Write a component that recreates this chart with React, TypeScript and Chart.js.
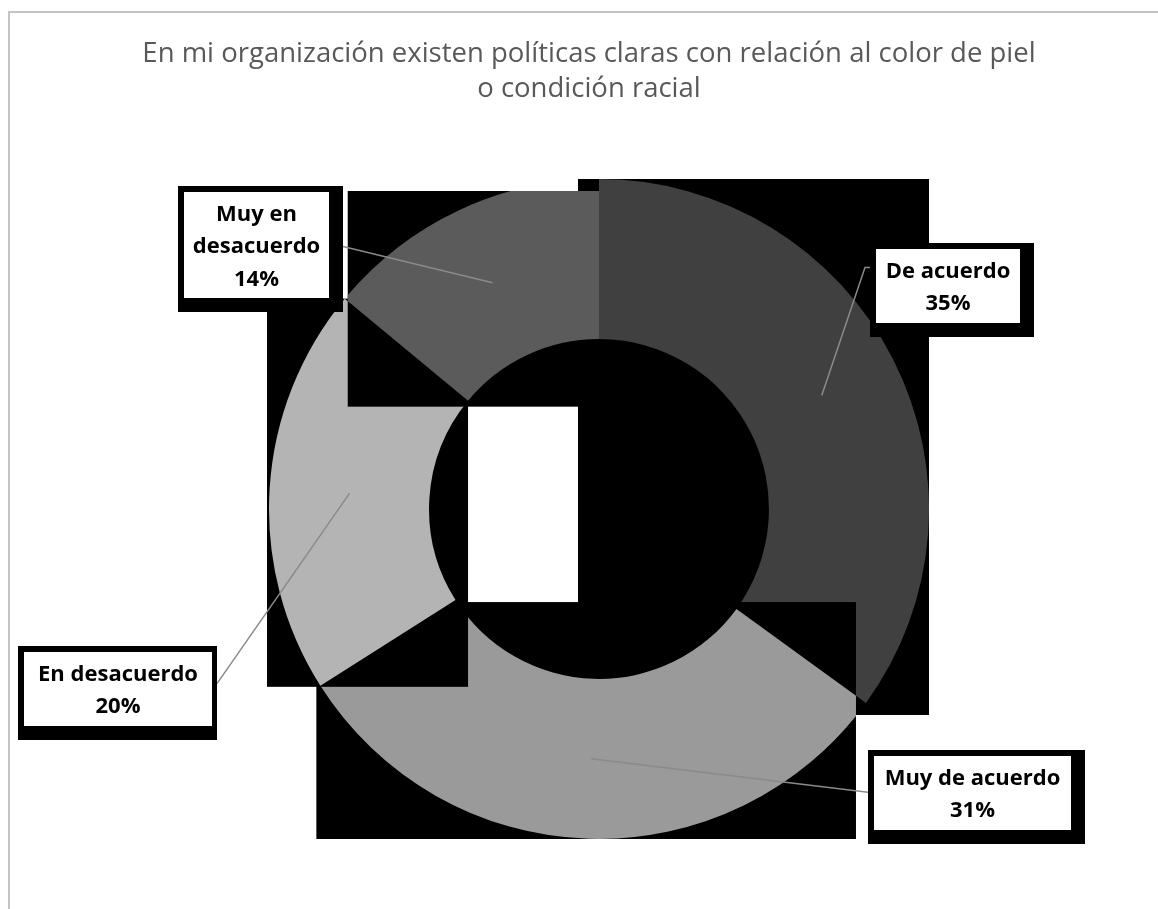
import { useEffect, useRef } from 'react';
import { Chart, registerables } from 'chart.js';

Chart.register(...registerables);

// ---- data ----
const TITLE_LINES = [
  'En mi organización existen políticas claras con relación al color de piel',
  'o condición racial',
];
const CATEGORIES = ['De acuerdo', 'Muy de acuerdo', 'En desacuerdo', 'Muy en desacuerdo'];
const VALUES = [35, 31, 20, 14];
// how each category name is wrapped inside its label box
const CATEGORY_LINES = [['De acuerdo'], ['Muy de acuerdo'], ['En desacuerdo'], ['Muy en', 'desacuerdo']];

// ---- style ----
const SLICE_COLORS = ['#404040', '#9a9a9a', '#b4b4b4', '#5b5b5b'];
// small tweaks (px) to each slice's black backing box: left, top, right, bottom
const BACKING_ADJUST = [
  { l: -21, t: 0, r: 0, b: 12 },
  { l: -4, t: 2, r: -10, b: 0 },
  { l: -2, t: 0, r: 0, b: 1 },
  { l: 3, t: 12, r: 0, b: 6 },
];
// white label boxes, placed relative to the doughnut centre (px)
const LABEL_LAYOUT = [
  { dx: 277, dy: -260, w: 144, h: 74, attach: 0.26, tick: 5, shadowR: 14 },
  { dx: 275, dy: 247, w: 197, h: 74, attach: 0.45, tick: 0, shadowR: 14 },
  { dx: -575, dy: 143, w: 188, h: 74, attach: 0.4, tick: 0, shadowR: 5 },
  { dx: -415, dy: -317, w: 145, h: 106, attach: 0.48, tick: 0, shadowR: 14 },
];

function arcBounds(p: any) {
  const pts: number[][] = [];
  for (const a of [p.startAngle, p.endAngle]) {
    pts.push([p.x + p.outerRadius * Math.cos(a), p.y + p.outerRadius * Math.sin(a)]);
    pts.push([p.x + p.innerRadius * Math.cos(a), p.y + p.innerRadius * Math.sin(a)]);
  }
  const q = Math.PI / 2;
  for (let k = Math.ceil(p.startAngle / q - 1e-9); k * q <= p.endAngle + 1e-9; k++) {
    const a = k * q;
    pts.push([p.x + p.outerRadius * Math.cos(a), p.y + p.outerRadius * Math.sin(a)]);
  }
  const xs = pts.map((v) => v[0]);
  const ys = pts.map((v) => v[1]);
  return { x0: Math.min(...xs), y0: Math.min(...ys), x1: Math.max(...xs), y1: Math.max(...ys) };
}

const sliceBackingPlugin = {
  id: 'sliceBacking',
  beforeDatasetDraw(chart: any, args: any) {
    const ctx = chart.ctx;
    args.meta.data.forEach((arc: any, i: number) => {
      const p = arc.getProps(['x', 'y', 'startAngle', 'endAngle', 'innerRadius', 'outerRadius'], true);
      const b = arcBounds(p);
      const a = BACKING_ADJUST[i];
      const x0 = b.x0 + a.l;
      const y0 = b.y0 + a.t;
      const x1 = b.x1 + a.r;
      const y1 = b.y1 + a.b;
      ctx.save();
      ctx.fillStyle = '#000000';
      ctx.fillRect(x0, y0, x1 - x0, y1 - y0);
      ctx.beginPath();
      ctx.rect(x0, y0, x1 - x0, y1 - y0);
      ctx.clip();
      arc.draw(ctx, chart.chartArea);
      ctx.restore();
    });
    return false;
  },
};

const titlePlugin = {
  id: 'customTitle',
  afterDraw(chart: any) {
    const ctx = chart.ctx;
    ctx.save();
    ctx.font = '27.5px "Open Sans"';
    ctx.fillStyle = '#595959';
    ctx.textAlign = 'center';
    ctx.textBaseline = 'alphabetic';
    TITLE_LINES.forEach((t, i) => ctx.fillText(t, 589, 62 + i * 35));
    ctx.restore();
  },
};

const labelPlugin = {
  id: 'boxLabels',
  afterDatasetsDraw(chart: any) {
    const ctx = chart.ctx;
    const meta = chart.getDatasetMeta(0);
    const total = VALUES.reduce((a, b) => a + b, 0);
    ctx.save();
    meta.data.forEach((arc: any, i: number) => {
      const L = LABEL_LAYOUT[i];
      const cx = arc.x;
      const cy = arc.y;
      const wx = cx + L.dx;
      const wy = cy + L.dy;
      const bx0 = wx - 6;
      const by0 = wy - 6;
      const bx1 = wx + L.w + L.shadowR;
      const by1 = wy + L.h + 14;
      const anchor = arc.getCenterPoint();
      const left = anchor.x < bx0;
      const ax = left ? bx0 : bx1;
      const ay = by0 + L.attach * (by1 - by0);
      // leader line
      ctx.strokeStyle = '#8a8a8a';
      ctx.lineWidth = 1.5;
      ctx.beginPath();
      ctx.moveTo(anchor.x, anchor.y);
      if (L.tick) {
        ctx.lineTo(ax + (left ? -L.tick : L.tick), ay);
      }
      ctx.lineTo(ax, ay);
      ctx.stroke();
      // box
      ctx.fillStyle = '#000000';
      ctx.fillRect(bx0, by0, bx1 - bx0, by1 - by0);
      ctx.fillStyle = '#ffffff';
      ctx.fillRect(wx, wy, L.w, L.h);
      // text
      const pct = Math.round((VALUES[i] / total) * 100) + '%';
      const lines = [...CATEGORY_LINES[i], pct];
      const lh = 32.5;
      const mid = wy + L.h / 2;
      ctx.fillStyle = '#000000';
      ctx.font = 'bold 22px "Open Sans"';
      ctx.textAlign = 'center';
      ctx.textBaseline = 'alphabetic';
      lines.forEach((t, k) => {
        ctx.fillText(t, wx + L.w / 2, mid - ((lines.length - 1) / 2) * lh + 8 + k * lh);
      });
    });
    ctx.restore();
  },
};

export default function App() {
  const ref = useRef<HTMLCanvasElement | null>(null);
  useEffect(() => {
    if (!ref.current) return;
    const chart = new Chart(ref.current, {
      type: 'doughnut',
      data: {
        labels: CATEGORIES,
        datasets: [
          {
            data: VALUES,
            backgroundColor: SLICE_COLORS,
            borderWidth: 0,
            hoverBorderWidth: 0,
            hoverOffset: 0,
            offset: 0,
          },
        ],
      },
      options: {
        animation: false,
        responsive: false,
        devicePixelRatio: 1,
        cutout: '51.5%',
        layout: { padding: { left: 240, right: 200, top: 179, bottom: 70 } },
        plugins: {
          legend: { display: false },
          tooltip: { enabled: false },
          title: { display: false },
        },
      } as any,
      plugins: [sliceBackingPlugin, labelPlugin, titlePlugin],
    });
    return () => chart.destroy();
  }, []);
  return (
    <div style={{ position: 'fixed', left: 0, top: 0, width: 1158, height: 909, overflow: 'hidden', background: '#fff' }}>
      <div
        style={{
          position: 'absolute',
          left: 8,
          top: 11,
          width: 1170,
          height: 920,
          borderLeft: '2px solid #c4c4c4',
          borderTop: '2px solid #c4c4c4',
          boxSizing: 'border-box',
        }}
      />
      <canvas ref={ref} width={1158} height={909} style={{ position: 'absolute', left: 0, top: 0, width: 1158, height: 909 }} />
    </div>
  );
}
